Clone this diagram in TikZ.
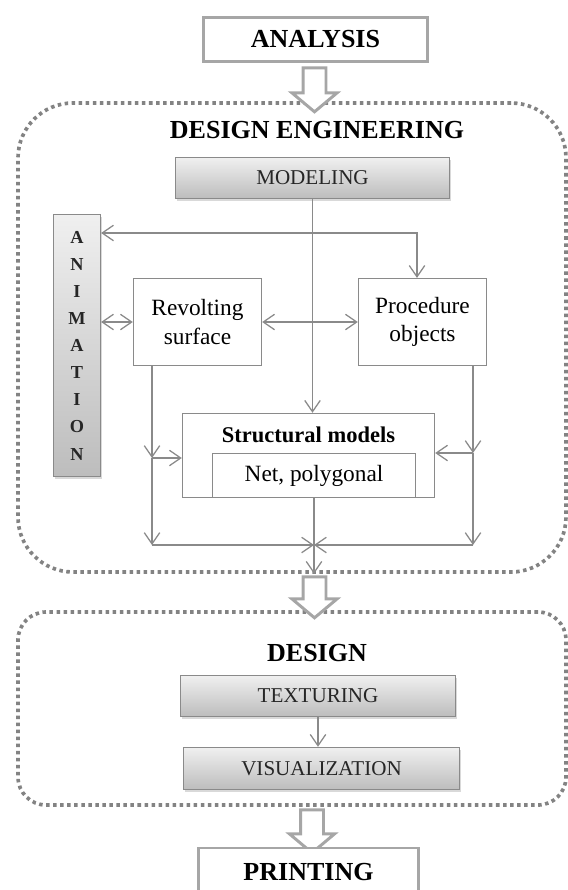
\documentclass[tikz,border=0pt]{standalone}
\usepackage{fontspec}
\setmainfont{Liberation Serif}
\usepackage{tikz}
\usetikzlibrary{arrows.meta,shapes.arrows,shadows}

\definecolor{framegray}{HTML}{A6A6A6}
\definecolor{linegray}{HTML}{8A8A8A}
\definecolor{dotgray}{HTML}{838383}

\tikzset{
  stage/.style={draw=framegray, line width=2.1pt, fill=white, inner sep=0pt,
    minimum height=1.1cm, font=\fontsize{18.5}{22}\selectfont\bfseries},
  groupbox/.style={draw=dotgray, line width=2.6pt, dash pattern=on 2.5pt off 2.5pt,
    minimum width=13.7cm},
  grouptitle/.style={inner sep=0pt, font=\fontsize{18.5}{22}\selectfont\bfseries},
  greybox/.style={draw=linegray, line width=1pt, top color=black!6, bottom color=black!26,
    drop shadow={opacity=0.3, shadow xshift=1.2pt, shadow yshift=-1.8pt},
    inner sep=0pt, text=black!85, font=\fontsize{15}{18}\selectfont},
  plainbox/.style={draw=linegray, line width=1pt, fill=white, inner sep=0pt, align=center,
    font=\fontsize{16.6}{20}\selectfont},
  bigarrow/.style={single arrow, draw=framegray, line width=2.1pt, fill=white, rotate=-90,
    inner xsep=0pt, inner ysep=0.25cm, single arrow head extend=0.275cm,
    single arrow tip angle=100},
  conn/.style={linegray, line width=0.9pt, >={Straight Barb[length=8pt,width=11pt]}}
}

\begin{document}
\begin{tikzpicture}
\useasboundingbox (0,0) rectangle (14.2,-22.25);

\draw (7.3,-8.4375)  node (deng)   [groupbox, minimum height=11.725cm, rounded corners=1.375cm] {};
\draw (7.3,-17.7125) node (design) [groupbox, minimum height=4.825cm, rounded corners=0.7cm] {};

\draw (7.8875,-0.9875) node (analysis) [stage, minimum width=5.6cm] {ANALYSIS};
\draw (7.8625,-2.125)  node (arr1) [bigarrow, minimum height=1.1cm] {};

\draw (7.925,-3.25)   node (dengtitle) [grouptitle] {DESIGN ENGINEERING};
\draw (7.8125,-4.45)  node (modeling)  [greybox, minimum width=6.84cm, minimum height=1.02cm] {MODELING};

\draw (1.925,-8.6375) node (animation) [greybox, minimum width=1.17cm, minimum height=6.55cm,
  align=center, font=\fontsize{13}{19.3}\selectfont\bfseries] {A\\N\\I\\M\\A\\T\\I\\O\\N};
\draw (4.9375,-8.05)  node (revolting) [plainbox, minimum width=3.2cm, minimum height=2.17cm] {Revolting\\surface};
\draw (10.5625,-8.05) node (procedure) [plainbox, minimum width=3.2cm, minimum height=2.17cm] {Procedure\\objects};

\draw (7.7125,-11.3875) node (structural) [plainbox, minimum width=6.3cm, minimum height=2.1cm] {};
\draw (7.7125,-10.875)  node (stitle) [font=\fontsize{16}{19}\selectfont\bfseries] {Structural models};
\draw (7.85,-11.8875)   node (net) [plainbox, minimum width=5.08cm, minimum height=1.1cm] {Net, polygonal};

\coordinate (top) at (10.425,-5.825);
\coordinate (lm)  at (3.8,-11.45);
\coordinate (lb)  at (3.8,-13.625);
\coordinate (rm)  at (11.825,-11.325);
\coordinate (rb)  at (11.825,-13.625);

\draw[conn,->]  (modeling.south) -- (modeling.south |- structural.north);
\draw[conn,<->] (top -| animation.east) -- (top) -- (top |- procedure.north);
\draw[conn,<->] (animation.east |- revolting.west) -- (revolting.west);
\draw[conn,<->] (revolting) -- (procedure);
\draw[conn,->]  (revolting.south -| lm) -- (lm);
\draw[conn,->]  (lm) -- (lm -| structural.west);
\draw[conn,->]  (lm) -- (lb);
\draw[conn,->]  (procedure.south -| rm) -- (rm);
\draw[conn,->]  (rm) -- (rm -| structural.east);
\draw[conn,->]  (rm) -- (rb);
\draw[conn,->]  (lb) -- (net.south |- lb);
\draw[conn,->]  (rb) -- (net.south |- rb);
\draw[conn,->]  (net.south) -- (net.south |- deng.south);

\draw (7.8625,-14.8125) node (arr2) [bigarrow, minimum height=1.025cm] {};

\draw (7.925,-16.325) node (designtitle) [grouptitle] {DESIGN};
\draw (7.95,-17.4)    node (texturing) [greybox, minimum width=6.87cm, minimum height=1.02cm] {TEXTURING};
\draw (8.0375,-19.2125) node (visualization) [greybox, minimum width=6.9cm, minimum height=1.05cm] {VISUALIZATION};
\draw[conn,->] (texturing.south) -- (texturing.south |- visualization.north);

\draw (7.8,-20.6625) node (arr3) [bigarrow, minimum height=1.075cm] {};
\draw (7.7125,-21.8) node (printing) [stage, minimum width=5.5cm, minimum height=1.2cm] {PRINTING};

\end{tikzpicture}
\end{document}
